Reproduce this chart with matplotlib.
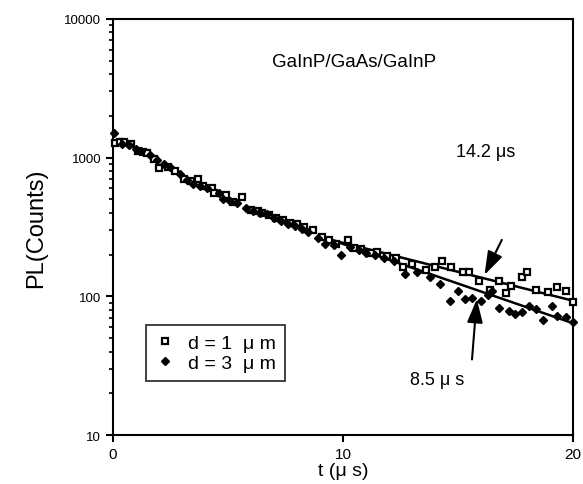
import matplotlib
matplotlib.use("Agg")
import matplotlib.pyplot as plt

plt.rcParams['font.family'] = ['Liberation Sans', 'DejaVu Sans']

# d = 1 um (open squares)
t_d1 = [0.1, 0.3, 0.5, 0.8, 1.1, 1.3, 1.5, 1.8, 2.0, 2.4, 2.7, 3.1, 3.4, 3.7, 3.9,
        4.3, 4.4, 4.9, 5.2, 5.6, 6.0, 6.3, 6.5, 6.8, 7.1, 7.4, 7.7, 8.0, 8.3, 8.7,
        9.1, 9.4, 9.7, 10.2, 10.5, 10.8, 11.2, 11.5, 11.9, 12.3, 12.6, 13.0, 13.6,
        14.0, 14.3, 14.7, 15.2, 15.5, 15.9, 16.4, 16.8, 17.1, 17.3, 17.8, 18.0,
        18.4, 18.9, 19.3, 19.7, 20.0]
pl_d1 = [1280, 1290, 1290, 1250, 1120, 1100, 1080, 980, 840, 860, 800, 700, 680, 700, 620,
         600, 560, 540, 480, 520, 420, 410, 400, 385, 370, 355, 340, 330, 315, 300,
         270, 255, 240, 253, 222, 218, 205, 208, 196, 190, 164, 170, 156,
         164, 179, 162, 149, 151, 128, 112, 128, 105, 118, 137, 151,
         112, 107, 116, 109, 91]

# d = 3 um (filled diamonds)
t_d3 = [0.05, 0.4, 0.7, 1.0, 1.2, 1.6, 1.9, 2.2, 2.5, 2.9, 3.2, 3.5, 3.8, 4.1, 4.6,
        4.8, 5.1, 5.4, 5.8, 6.1, 6.4, 6.7, 7.0, 7.3, 7.6, 7.9, 8.2, 8.5, 8.9, 9.2,
        9.6, 9.9, 10.3, 10.7, 11.0, 11.4, 11.8, 12.2, 12.7, 13.2, 13.8, 14.2, 14.65,
        15.0, 15.3, 15.6, 16.0, 16.3, 16.5, 16.8, 17.2, 17.5, 17.8, 18.1, 18.4,
        18.7, 19.1, 19.3, 19.7, 20.0]
pl_d3 = [1500, 1260, 1230, 1150, 1110, 1050, 960, 900, 850, 760, 690, 650, 620, 600, 560,
         500, 490, 470, 430, 415, 400, 390, 365, 350, 335, 320, 305, 290, 262, 240,
         235, 200, 228, 215, 205, 200, 190, 180, 144, 149, 137, 122, 92,
         109, 95, 98, 92, 103, 109, 83, 78, 74, 77, 85, 81,
         68, 85, 72, 71, 65]

# exponential fit lines (end points)
fit_t = [9.5, 20.0]
fit_d1 = [255, 93]
fit_d3 = [255, 64]

fig = plt.figure(figsize=(5.83, 4.85), dpi=100)
ax = fig.add_axes([0.1938, 0.1010, 0.789, 0.8578])

ax.plot(t_d1, pl_d1, linestyle='none', marker='s', markersize=4.6,
        markerfacecolor='white', markeredgecolor='black', markeredgewidth=1.6,
        label='d = 1  μ m', zorder=3, clip_on=False)
ax.plot(t_d3, pl_d3, linestyle='none', marker='D', markersize=4.0,
        color='black', label='d = 3  μ m', zorder=3, clip_on=False)
ax.plot(fit_t, fit_d1, color='black', linewidth=1.8, zorder=2)
ax.plot(fit_t, fit_d3, color='black', linewidth=1.8, zorder=2)

ax.set_yscale('log')
ax.set_xlim(0, 20)
ax.set_ylim(10, 10000)
ax.set_xticks([0, 10, 20])
ax.set_yticks([10, 100, 1000, 10000])
ax.set_yticklabels(['10', '100', '1000', '10000'])
ax.tick_params(axis='both', which='major', direction='out', length=5, width=1.5,
               labelsize=9.5)
ax.tick_params(axis='x', labelsize=11)
ax.tick_params(axis='y', which='minor', direction='out', length=3, width=1.2)
for sp in ax.spines.values():
    sp.set_linewidth(1.5)

ax.set_xlabel('t (μ s)', fontsize=14, labelpad=1)
ax.set_ylabel('PL(Counts)', fontsize=17, labelpad=12)

ax.text(10.5, 4900, 'GaInP/GaAs/GaInP', fontsize=13.5, ha='center', va='center')
ax.text(16.2, 1100, '14.2 μs', fontsize=13, ha='center', va='center')
ax.text(14.1, 25.3, '8.5 μ s', fontsize=13, ha='center', va='center')

arrow = dict(arrowstyle='-|>,head_length=0.9,head_width=0.3', color='black',
             lw=1.5, mutation_scale=16)
ax.annotate('', xy=(16.1, 137), xytext=(16.96, 266), arrowprops=arrow)
ax.annotate('', xy=(15.83, 100), xytext=(15.6, 33.5), arrowprops=arrow)

leg = ax.legend(loc='lower left', bbox_to_anchor=(0.072, 0.13), borderaxespad=0,
                fontsize=14, frameon=True, fancybox=False, handlelength=1.0,
                handletextpad=0.7, borderpad=0.45, labelspacing=0.15)
leg.get_frame().set_edgecolor('black')
leg.get_frame().set_linewidth(1.3)

fig.savefig('out.png', dpi=100)
